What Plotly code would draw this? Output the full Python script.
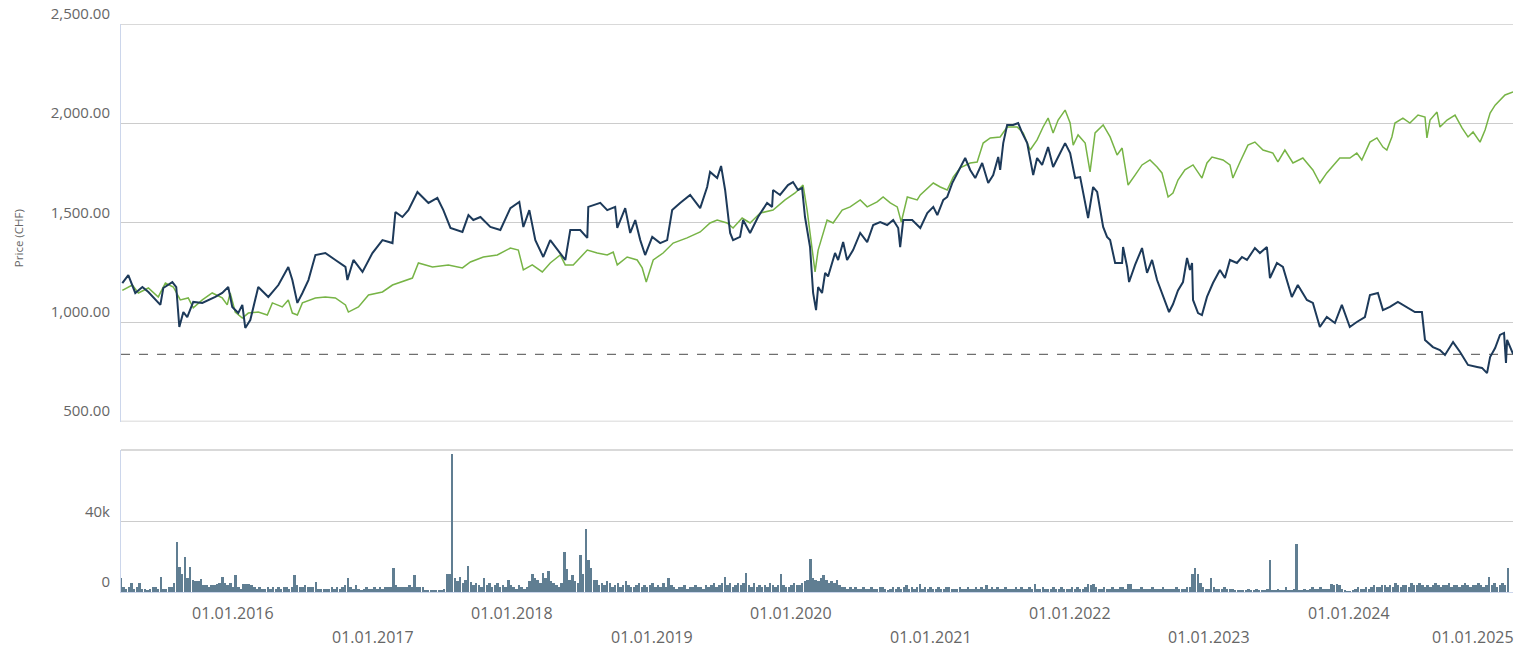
import pandas as pd
import plotly.graph_objects as go

# ---------------- data ----------------
# Stock price (CHF), dates as decimal years
stock_t = [2015.204, 2015.247, 2015.297, 2015.348, 2015.391, 2015.477, 2015.498, 2015.563, 2015.591, 2015.606,
           2015.613, 2015.642, 2015.670, 2015.713, 2015.778, 2015.871, 2015.921, 2015.964, 2015.993, 2016.036,
           2016.065, 2016.086, 2016.122, 2016.179, 2016.251, 2016.323, 2016.394, 2016.423, 2016.459, 2016.495,
           2016.538, 2016.588, 2016.659, 2016.731, 2016.803, 2016.817, 2016.860, 2016.925, 2016.996, 2017.068,
           2017.140, 2017.161, 2017.211, 2017.254, 2017.319, 2017.398, 2017.462, 2017.505, 2017.556, 2017.642,
           2017.685, 2017.720, 2017.771, 2017.842, 2017.914, 2017.986, 2018.050, 2018.079, 2018.122, 2018.165,
           2018.222, 2018.272, 2018.323, 2018.380, 2018.416, 2018.487, 2018.538, 2018.545, 2018.631, 2018.681,
           2018.738, 2018.753, 2018.810, 2018.846, 2018.882, 2018.918, 2018.953, 2019.004, 2019.061, 2019.111,
           2019.147, 2019.204, 2019.276, 2019.348, 2019.398, 2019.419, 2019.470, 2019.498, 2019.527, 2019.563,
           2019.584, 2019.634, 2019.656, 2019.706, 2019.763, 2019.828, 2019.864, 2019.871, 2019.921, 2019.978,
           2020.014, 2020.050, 2020.079, 2020.100, 2020.136, 2020.158, 2020.179, 2020.194, 2020.222, 2020.244,
           2020.265, 2020.315, 2020.337, 2020.373, 2020.401, 2020.444, 2020.495, 2020.545, 2020.588, 2020.638,
           2020.688, 2020.731, 2020.767, 2020.781, 2020.803, 2020.867, 2020.925, 2020.975, 2021.018, 2021.047,
           2021.090, 2021.118, 2021.154, 2021.190, 2021.247, 2021.283, 2021.319, 2021.369, 2021.412, 2021.448,
           2021.484, 2021.498, 2021.520, 2021.548, 2021.591, 2021.627, 2021.656, 2021.692, 2021.713, 2021.735,
           2021.763, 2021.799, 2021.842, 2021.878, 2021.914, 2021.964, 2022.000, 2022.036, 2022.072, 2022.122,
           2022.129, 2022.165, 2022.194, 2022.237, 2022.265, 2022.287, 2022.323, 2022.373, 2022.380, 2022.409,
           2022.423, 2022.466, 2022.516, 2022.552, 2022.588, 2022.624, 2022.667, 2022.710, 2022.738, 2022.774,
           2022.810, 2022.839, 2022.860, 2022.875, 2022.882, 2022.918, 2022.946, 2022.982, 2023.025, 2023.075,
           2023.111, 2023.147, 2023.197, 2023.233, 2023.269, 2023.326, 2023.362, 2023.412, 2023.434, 2023.484,
           2023.527, 2023.591, 2023.634, 2023.699, 2023.742, 2023.792, 2023.842, 2023.900, 2023.950, 2024.007,
           2024.057, 2024.115, 2024.151, 2024.208, 2024.244, 2024.294, 2024.351, 2024.416, 2024.473, 2024.523,
           2024.545, 2024.602, 2024.652, 2024.688, 2024.746, 2024.796, 2024.853, 2024.918, 2024.953, 2024.989,
           2025.011, 2025.047, 2025.082, 2025.111, 2025.125, 2025.133, 2025.176]
stock_price = [1197, 1237, 1147, 1177, 1152, 1087, 1172, 1202, 1177, 1046,
               976, 1051, 1026, 1102, 1097, 1127, 1147, 1177, 1077, 1046,
               1087, 971, 1011, 1177, 1127, 1187, 1278, 1212, 1097, 1147,
               1212, 1338, 1348, 1313, 1278, 1212, 1313, 1253, 1348, 1413,
               1398, 1554, 1529, 1564, 1655, 1600, 1625, 1564, 1474, 1454,
               1539, 1514, 1529, 1479, 1464, 1574, 1605, 1479, 1564, 1413,
               1328, 1413, 1363, 1313, 1464, 1464, 1424, 1580, 1600, 1564,
               1580, 1474, 1574, 1449, 1514, 1413, 1338, 1429, 1398, 1413,
               1564, 1600, 1640, 1574, 1680, 1756, 1725, 1786, 1665, 1449,
               1413, 1429, 1514, 1449, 1529, 1600, 1580, 1665, 1640, 1690,
               1705, 1665, 1675, 1529, 1378, 1147, 1061, 1177, 1147, 1248,
               1230, 1348, 1313, 1403, 1313, 1363, 1449, 1403, 1489, 1504,
               1489, 1514, 1474, 1378, 1514, 1514, 1474, 1549, 1580, 1539,
               1615, 1630, 1700, 1751, 1826, 1766, 1725, 1801, 1700, 1740,
               1831, 1766, 1901, 1992, 1992, 2002, 1952, 1901, 1826, 1740,
               1826, 1791, 1881, 1781, 1831, 1901, 1851, 1725, 1730, 1564,
               1524, 1680, 1655, 1479, 1429, 1413, 1298, 1298, 1378, 1278,
               1202, 1288, 1373, 1248, 1313, 1212, 1127, 1051, 1090, 1160,
               1202, 1323, 1263, 1298, 1112, 1046, 1036, 1127, 1197, 1263,
               1222, 1313, 1298, 1328, 1313, 1373, 1348, 1378, 1222, 1298,
               1278, 1127, 1187, 1112, 1097, 976, 1026, 996, 1087, 976,
               1001, 1026, 1137, 1147, 1061, 1077, 1102, 1077, 1051, 1051,
               911, 875, 860, 835, 900, 850, 785, 775, 770, 744,
               825, 870, 936, 946, 795, 911, 840]

# Benchmark index, rebased to the stock (CHF)
index_t = [2015.204, 2015.276, 2015.319, 2015.391, 2015.462, 2015.513, 2015.570, 2015.620, 2015.677, 2015.713,
           2015.778, 2015.849, 2015.921, 2015.957, 2015.978, 2016.014, 2016.065, 2016.108, 2016.179, 2016.244,
           2016.280, 2016.351, 2016.394, 2016.423, 2016.459, 2016.495, 2016.588, 2016.659, 2016.731, 2016.803,
           2016.824, 2016.896, 2016.968, 2017.068, 2017.140, 2017.233, 2017.283, 2017.326, 2017.427, 2017.541,
           2017.642, 2017.699, 2017.792, 2017.892, 2017.986, 2018.043, 2018.079, 2018.143, 2018.215, 2018.272,
           2018.344, 2018.380, 2018.437, 2018.538, 2018.609, 2018.681, 2018.724, 2018.753, 2018.824, 2018.896,
           2018.932, 2018.961, 2019.011, 2019.082, 2019.154, 2019.254, 2019.348, 2019.419, 2019.470, 2019.541,
           2019.584, 2019.649, 2019.706, 2019.778, 2019.871, 2019.957, 2020.029, 2020.086, 2020.115, 2020.136,
           2020.172, 2020.194, 2020.229, 2020.258, 2020.301, 2020.366, 2020.423, 2020.495, 2020.545, 2020.616,
           2020.659, 2020.710, 2020.760, 2020.789, 2020.832, 2020.903, 2020.925, 2021.018, 2021.068, 2021.118,
           2021.161, 2021.211, 2021.283, 2021.333, 2021.376, 2021.427, 2021.498, 2021.548, 2021.620, 2021.663,
           2021.713, 2021.763, 2021.806, 2021.842, 2021.878, 2021.914, 2021.964, 2022.000, 2022.022, 2022.057,
           2022.108, 2022.143, 2022.179, 2022.237, 2022.287, 2022.337, 2022.373, 2022.416, 2022.466, 2022.516,
           2022.573, 2022.624, 2022.659, 2022.703, 2022.738, 2022.774, 2022.824, 2022.882, 2022.946, 2022.982,
           2023.018, 2023.097, 2023.147, 2023.168, 2023.219, 2023.276, 2023.326, 2023.384, 2023.455, 2023.491,
           2023.541, 2023.599, 2023.670, 2023.742, 2023.792, 2023.842, 2023.935, 2024.007, 2024.057, 2024.093,
           2024.151, 2024.201, 2024.244, 2024.272, 2024.308, 2024.330, 2024.387, 2024.437, 2024.495, 2024.545,
           2024.559, 2024.581, 2024.631, 2024.652, 2024.703, 2024.760, 2024.810, 2024.853, 2024.889, 2024.939,
           2024.975, 2025.011, 2025.047, 2025.082, 2025.118, 2025.176]
index_price = [1160, 1187, 1147, 1172, 1127, 1197, 1177, 1112, 1122, 1072,
               1112, 1147, 1122, 1087, 1147, 1051, 1021, 1046, 1051, 1036,
               1097, 1077, 1112, 1046, 1036, 1097, 1122, 1127, 1122, 1087,
               1051, 1077, 1137, 1152, 1187, 1212, 1222, 1298, 1278, 1288,
               1273, 1303, 1328, 1338, 1373, 1363, 1263, 1288, 1253, 1298,
               1338, 1288, 1288, 1363, 1348, 1338, 1353, 1288, 1328, 1313,
               1273, 1202, 1313, 1348, 1398, 1424, 1454, 1499, 1514, 1499,
               1474, 1524, 1499, 1549, 1564, 1615, 1650, 1690, 1564, 1449,
               1253, 1363, 1449, 1514, 1499, 1564, 1580, 1615, 1580, 1605,
               1630, 1600, 1580, 1504, 1630, 1615, 1640, 1700, 1680, 1665,
               1730, 1776, 1801, 1806, 1901, 1927, 1932, 1982, 1982, 1952,
               1866, 1917, 1982, 2027, 1952, 2017, 2067, 2002, 1891, 1942,
               1901, 1756, 1952, 1992, 1932, 1841, 1876, 1690, 1740, 1791,
               1816, 1781, 1751, 1630, 1650, 1715, 1766, 1791, 1725, 1801,
               1831, 1816, 1791, 1725, 1806, 1891, 1906, 1866, 1851, 1806,
               1866, 1801, 1826, 1766, 1700, 1751, 1826, 1826, 1851, 1816,
               1906, 1927, 1881, 1866, 1932, 2002, 2027, 2002, 2042, 2032,
               1927, 2017, 2057, 1982, 2017, 2042, 1977, 1932, 1957, 1906,
               1967, 2052, 2092, 2117, 2143, 2158]

# Weekly traded volume (thousands of shares), first week starting 13.03.2015
volume_start = "2015-03-13"
volume_k = [8, 3, 2, 3, 5, 2, 3, 5, 2, 2, 1, 2, 3, 3, 2, 8.5, 2, 2, 3, 3,
            5, 28.5, 14, 10, 20, 8, 14, 7, 6.5, 6.5, 7.5, 4, 4, 3, 4, 4, 4.5, 5, 8.5, 5,
            4, 5, 3, 9.5, 3, 2, 4.7, 4.7, 4.5, 4, 3, 2, 3, 2, 2, 3, 2, 3, 2, 3,
            2, 3, 3, 2, 3, 9.5, 4, 3, 3, 4, 3, 3, 3, 5.7, 2, 1.5, 2, 1.5, 2, 3,
            2, 3, 2, 3, 4, 7.8, 3, 2, 4, 2, 1, 2, 3, 2, 2, 3, 2, 3, 2, 3,
            3, 3, 13.5, 4, 3, 3, 3, 3, 4, 3, 9.5, 3, 3, 3, 1, 1, 1, 1, 1, 1,
            1, 2, 10, 10, 79, 8, 6, 8.5, 5, 7, 14.6, 5.7, 4, 5, 4, 3, 8, 4, 5, 3,
            4, 5, 3, 4, 3, 6.6, 4, 3, 2, 4, 3, 2, 3, 6, 10, 8, 7, 5, 11, 8,
            12, 6, 5, 4, 3, 5, 23, 13, 7, 9.5, 6, 5, 21, 10, 36, 18, 13.5, 6.6, 6.6, 4,
            5, 4, 6, 5, 3, 4, 5, 3, 4, 6, 4, 3, 3, 4, 5, 3, 4, 3, 4, 5,
            3, 4, 3, 5, 3, 8, 4, 3, 2, 3, 3, 4, 2, 3, 3, 4, 3, 3, 2, 4,
            3, 4, 5, 3, 4, 5, 8.5, 4, 5, 3, 4, 5, 4, 5, 11, 4, 3, 5, 3, 4,
            3, 4, 3, 5, 4, 3, 4, 10, 4, 3, 3, 4, 5, 4, 4, 5, 6, 7, 19, 8,
            7, 6, 8, 9.5, 7, 5, 6, 5, 7, 4, 3, 3, 2, 3, 2, 3, 2, 2, 3, 2,
            2, 3, 2, 2, 3, 3, 2, 1, 2, 3, 2, 3, 2, 3, 4, 2, 3, 2, 3, 4.7,
            2, 3, 2, 3, 2, 2, 3, 2, 2, 3, 3, 2, 2, 2, 3, 2, 2, 3, 2, 2,
            3, 2, 3, 2, 4, 2, 3, 2, 3, 2, 2, 3, 2, 2, 2, 3, 2, 3, 2, 2,
            3, 2, 4.7, 2, 2, 3, 2, 2, 2, 3, 2, 2, 3, 2, 2, 2, 3, 2, 3, 2,
            2, 3, 4.7, 4, 4.7, 3, 2, 2, 3, 2, 2, 3, 2, 2, 3, 3, 2, 4.7, 4.7, 2,
            2, 2, 3, 2, 2, 2, 3, 2, 2, 2, 3, 2, 2, 2, 2, 3, 2, 2, 2, 3,
            3, 10.5, 13.5, 10, 5, 3, 2, 2, 7.8, 3, 2, 2, 2, 3, 2, 2, 2, 1, 1, 1,
            1, 1, 2, 1, 1, 2, 1, 1, 1, 2, 18, 1, 1, 2, 1, 1, 3, 1, 1, 2,
            27.5, 1, 1, 2, 1, 2, 3, 2, 2, 3, 2, 2, 2, 4.7, 4, 4.7, 4, 2, 1, 0.5,
            0.5, 1, 2, 3, 2, 2, 3, 2, 3, 4, 3, 3, 4, 4, 3, 4, 3, 5, 4, 3,
            4, 4, 3, 5, 4, 4, 5, 4, 3, 4, 3, 4, 5, 4, 3, 4, 4, 5, 3, 4,
            4, 3, 4, 5, 4, 3, 4, 4, 5, 4, 3, 4, 8.5, 4, 5, 3, 4, 5, 4, 13.5]

last_close = 838
x_range = ["2015-03-13", "2025-03-06"]
price_range = [500, 2500]
price_ticks = [500, 1000, 1500, 2000, 2500]
volume_ticks = [0, 40000]
volume_tick_labels = ["0", "40k"]
date_ticks = ["2016-01-01", "2017-01-01", "2018-01-01", "2019-01-01", "2020-01-01",
              "2021-01-01", "2022-01-01", "2023-01-01", "2024-01-01", "2025-01-01"]
date_tick_labels = ["01.01.2016", "01.01.2017", "01.01.2018", "01.01.2019", "01.01.2020",
                    "01.01.2021", "01.01.2022", "01.01.2023", "01.01.2024", "01.01.2025"]
y_title = "Price (CHF)"


def dec_to_date(v):
    y = int(v)
    start = pd.Timestamp(y, 1, 1)
    end = pd.Timestamp(y + 1, 1, 1)
    return start + (end - start) * (v - y)


stock_dates = [dec_to_date(v) for v in stock_t]
index_dates = [dec_to_date(v) for v in index_t]
volume_dates = pd.date_range(volume_start, periods=len(volume_k), freq="7D")
volume = [v * 1000 for v in volume_k]

# ---------------- styling ----------------
FONT = "Open Sans"
TXT = "#666666"
GRID = "#cccccc"
AXIS = "#ccd6eb"
NAVY = "#1d3a5a"
GREEN = "#77b446"
BAR = "#607e92"

fig = go.Figure()

fig.add_trace(go.Scatter(x=index_dates, y=index_price, mode="lines",
                         line=dict(color=GREEN, width=1.5), name="Index",
                         xaxis="x", yaxis="y"))
fig.add_trace(go.Scatter(x=stock_dates, y=stock_price, mode="lines",
                         line=dict(color=NAVY, width=2), name="Share",
                         xaxis="x", yaxis="y"))
fig.add_trace(go.Bar(x=volume_dates, y=volume, marker=dict(color=BAR, line=dict(width=0)),
                     width=5.2 * 86400000, name="Volume", xaxis="x2", yaxis="y2"))

fig.update_layout(
    width=1529, height=653,
    margin=dict(l=121, r=16, t=24, b=61),
    paper_bgcolor="white", plot_bgcolor="white",
    showlegend=False,
    bargap=0,
    font=dict(family=FONT, size=15, color=TXT),
    xaxis=dict(domain=[0, 1], range=x_range, type="date", anchor="y",
               showticklabels=False, showgrid=False, zeroline=False, ticks=""),
    xaxis2=dict(domain=[0, 1], range=x_range, type="date", anchor="y2", matches="x",
                showticklabels=False, showgrid=False, zeroline=False, ticks="",
                showline=True, linecolor=AXIS, linewidth=1),
    yaxis=dict(domain=[0.300, 1.0], range=price_range, anchor="x",
               tickvals=price_ticks, tickformat=",.2f",
               showgrid=True, gridcolor=GRID, gridwidth=1, zeroline=False,
               showline=True, linecolor=AXIS, linewidth=1, ticks="",
               ticklabelposition="outside top", ticklabelstandoff=7,
               tickfont=dict(family=FONT, size=15, color=TXT),
               automargin=False),
    yaxis2=dict(domain=[0, 0.25], range=[0, 81100], anchor="x2",
                tickvals=volume_ticks, ticktext=volume_tick_labels,
                showgrid=True, gridcolor=GRID, gridwidth=1, zeroline=False,
                showline=True, linecolor=AXIS, linewidth=1, ticks="",
                ticklabelposition="outside top", ticklabelstandoff=7,
                tickfont=dict(family=FONT, size=15, color=TXT),
                automargin=False),
)

# gridlines at the two ends of the price axis (plotly skips edge gridlines)
for v in (price_range[0], price_range[1]):
    fig.add_shape(type="line", xref="x domain", yref="y", x0=0, x1=1, y0=v, y1=v,
                  line=dict(color=GRID, width=1.5), layer="below")
# last-close reference line
fig.add_shape(type="line", xref="x domain", yref="y", x0=0, x1=1, y0=last_close, y1=last_close,
              line=dict(color="#6f6f6f", width=1.3, dash="dash"), layer="below")
# top border of the volume panel
fig.add_shape(type="line", xref="x2 domain", yref="y2 domain", x0=0, x1=1, y0=1, y1=1,
              line=dict(color=GRID, width=1.5), layer="below")

# y-axis title
fig.add_annotation(text=y_title, textangle=-90, xref="paper", x=0, xanchor="center",
                   xshift=-103, yref="paper", y=0.623, yanchor="middle", showarrow=False,
                   font=dict(family=FONT, size=11.5, color=TXT))

# alternating two-row date labels
for i, (d, lab) in enumerate(zip(date_ticks, date_tick_labels)):
    last = i == len(date_ticks) - 1
    fig.add_annotation(x=d, xref="x2", y=0, yref="paper", text=lab, showarrow=False,
                       xanchor="center", yanchor="middle",
                       yshift=-21 if i % 2 == 0 else -45,
                       xshift=-16 if last else 0,
                       font=dict(family=FONT, size=16, color=TXT))

# remove the browser's default 8px body margin so the figure fills the window exactly
fig.write_html("out.html", config={"displayModeBar": False},
               post_script="document.body.style.margin='0';document.body.style.overflow='hidden';")
